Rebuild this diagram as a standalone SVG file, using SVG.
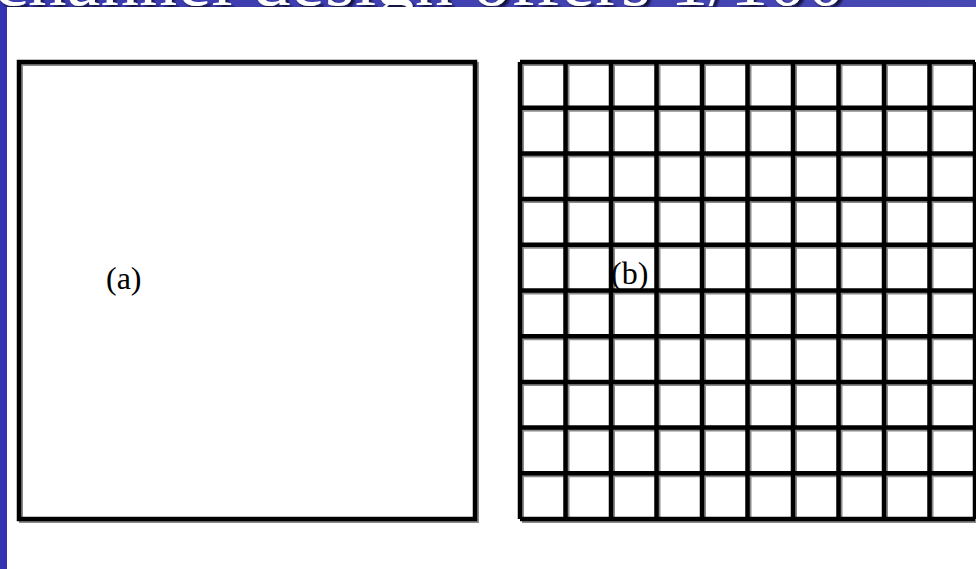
<svg xmlns="http://www.w3.org/2000/svg" width="976" height="569" viewBox="0 0 976 569">
<defs>
<style>
.title{font-family:"Liberation Serif","Times New Roman",serif;font-size:76px;fill:#ffffff}
.lbl{font-family:"Liberation Serif","Times New Roman",serif;font-size:32px;fill:#000000}
.blk{fill:none;stroke:#000000;stroke-width:4.5}
.gry{fill:none;stroke:#8a8a8a;stroke-width:4}
</style>
<linearGradient id="band" x1="0" y1="0" x2="1" y2="0">
<stop offset="0" stop-color="#3a3ab0"/>
<stop offset="1" stop-color="#4848b4"/>
</linearGradient>
<filter id="sh" x="-5%" y="-50%" width="110%" height="200%">
<feDropShadow dx="3" dy="3" stdDeviation="1" flood-color="#0a0a30" flood-opacity="0.9"/>
</filter>
<clipPath id="bandclip"><rect x="0" y="0" width="976" height="7"/></clipPath>
</defs>
<rect x="0" y="0" width="976" height="569" fill="#ffffff"/>
<rect x="0" y="0" width="976" height="7" fill="url(#band)"/>
<rect x="0" y="0" width="7" height="569" fill="#3434b2"/>
<g id="title" clip-path="url(#bandclip)">
<text class="title" x="-6" y="5" textLength="851" lengthAdjust="spacing" filter="url(#sh)">channel design offers 1/100</text>
</g>
<g id="box-a">
<rect class="gry" x="21" y="64" width="456" height="457"/>
<rect class="blk" x="19" y="62" width="456" height="457"/>
<text class="lbl" x="106" y="289">(a)</text>
</g>
<g id="box-b">
<path class="gry" d="M522 64V521M567.5 64V521M613 64V521M658.5 64V521M704 64V521M749.5 64V521M795 64V521M840.5 64V521M886 64V521M931.5 64V521M977 64V521M522 64H977M522 109.7H977M522 155.4H977M522 201.1H977M522 246.8H977M522 292.5H977M522 338.2H977M522 383.9H977M522 429.6H977M522 475.3H977M522 521H977"/>
<path class="blk" d="M520 62V519M565.5 62V519M611 62V519M656.5 62V519M702 62V519M747.5 62V519M793 62V519M838.5 62V519M884 62V519M929.5 62V519M975 62V519M520 62H975M520 107.7H975M520 153.4H975M520 199.1H975M520 244.8H975M520 290.5H975M520 336.2H975M520 381.9H975M520 427.6H975M520 473.3H975M520 519H975"/>
<text class="lbl" x="611" y="284">(b)</text>
</g>
</svg>
